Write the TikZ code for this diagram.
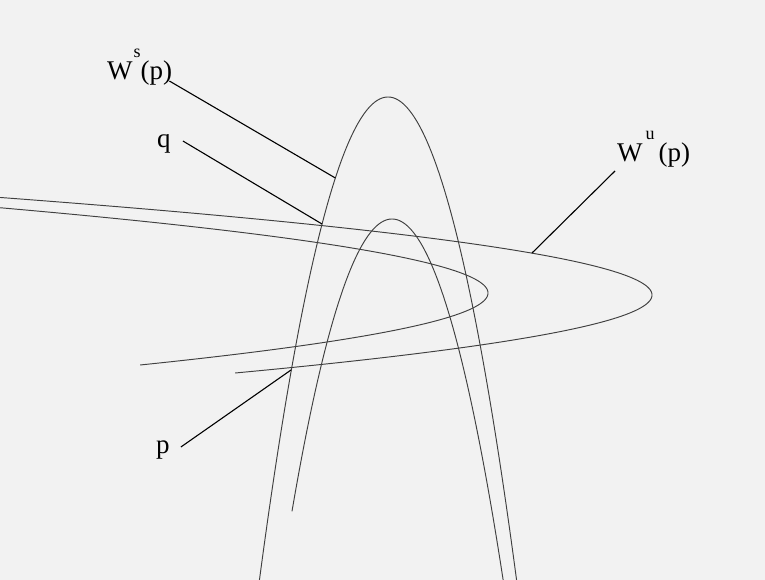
\documentclass[tikz,border=0pt]{standalone}
\usepackage{fontspec}
\setmainfont{Liberation Serif}
\begin{document}
\begin{tikzpicture}[x=1pt,y=-1pt,
  curve/.style={draw=black!75,line width=0.95pt},
  leader/.style={draw=black,line width=1.1pt},
  lbl/.style={anchor=base west,inner sep=0pt,font=\fontsize{27}{27}\selectfont}]
\fill[black!5] (0,0) rectangle (765,580);
\useasboundingbox (0,0) rectangle (765,580);
\begin{scope}
\clip (0,0) rectangle (765,580);
% stable manifold: outer arch and inner arch
\draw[curve] plot[domain=-22:22.1,samples=160,smooth,variable=\t] ({388+5.85*\t},{97+\t*\t});
\draw[curve] plot[domain=-17.1:19.1,samples=140,smooth,variable=\t] ({392+5.85*\t},{219+\t*\t});
% unstable manifold: outer and inner hairpins
\draw[curve] plot[domain=-25.53:20.42,samples=160,smooth,variable=\t] ({652-\t*\t},{295+3.82*\t});
\draw[curve] plot[domain=-22.09:18.65,samples=140,smooth,variable=\t] ({488-\t*\t},{293+3.86*\t});
\end{scope}
% points on curves
\coordinate (ws) at ({388-5.85*9},{97+81});
\coordinate (q) at (322,224);
\coordinate (pp) at (291,370);
\coordinate (wu) at (532,253);
% labels
\node[lbl] (Ws) at (107,80) {W\kern1pt\raisebox{22pt}{\fontsize{18}{18}\selectfont s}(p)};
\node[lbl] (ql) at (157,148) {q};
\node[lbl] (pl) at (156,453) {p};
\node[lbl] (Wu) at (617,162) {W\kern3pt\raisebox{22pt}{\fontsize{18}{18}\selectfont u}\kern4pt(p)};
% leaders
\draw[leader] ([shift={(-3,1)}]Ws.base east) -- (ws);
\draw[leader] ([shift={(12,-7)}]ql.base east) -- (q);
\draw[leader] ([shift={(11,-6)}]pl.base east) -- (pp);
\draw[leader] ([shift={(-2,9)}]Wu.base west) -- (wu);
\end{tikzpicture}
\end{document}
